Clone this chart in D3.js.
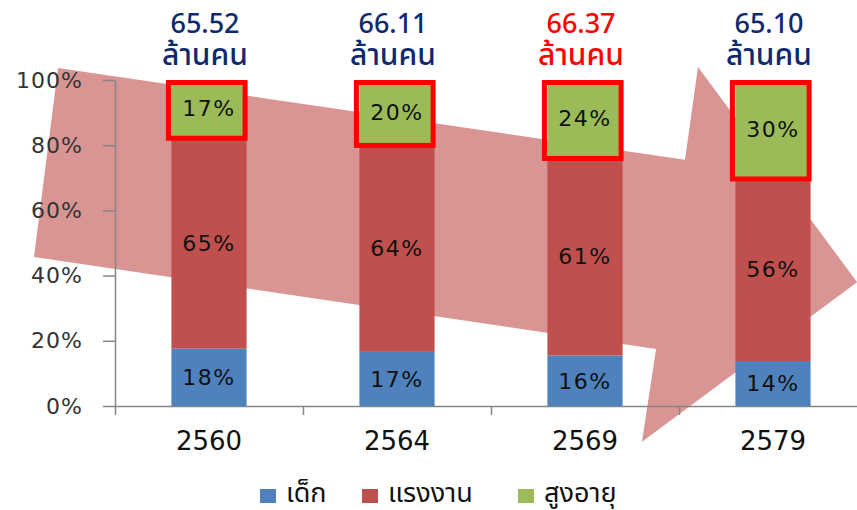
<!DOCTYPE html>
<head>
  <meta charset="utf-8">
  <script src="https://d3js.org/d3.v7.min.js"></script>
  <style>
    body { margin:0; background:#fff; }
    svg { display:block; }
    .thai { font-family: "Noto Sans Thai", "Noto Sans", Loma, Garuda, "DejaVu Sans", sans-serif; }
  </style>
</head>
<body>
  <div class="chart"></div>
  <script>
    // data
    const years = ['2560', '2564', '2569', '2579'];
    const totals = ['65.52', '66.11', '66.37', '65.10'];
    const children = [17.6, 16.6, 15.5, 13.8];   // เด็ก
    const working = [65.0, 63.8, 60.9, 56.3];    // แรงงาน
    const elderly = [17.4, 19.6, 23.6, 29.9];    // สูงอายุ
    const seriesNames = ['เด็ก', 'แรงงาน', 'สูงอายุ'];
    const yTicks = [0, 20, 40, 60, 80, 100];
    const highlightYear = '2569';

    // big arrow behind the bars, in (category units, percent)
    const arrowU = [-0.303, 3.032, 3.101, 3.947, 2.803, 2.878, -0.431];
    const arrowPct = [103.7, 75.5, 104.0, 38.0, -11.0, 17.5, 45.7];

    const colors = ['#4f81bd', '#c0504d', '#9bbb59'];
    const W = 857, H = 510;

    const rows = years.map((y, i) => ({ year: y, c: children[i], w: working[i], e: elderly[i] }));
    const keys = ['c', 'w', 'e'];
    const stacked = d3.stack().keys(keys)(rows);

    const svg = d3.select('.chart').append('svg')
      .attr('width', W).attr('height', H);

    const x = d3.scaleBand().domain(years).range([115, 867])
      .paddingInner(0.6).paddingOuter(0.3);
    const xu = d3.scaleLinear().domain([0, 4]).range([115, 867]);
    const y = d3.scaleLinear().domain([0, 100]).range([406, 80]);

    // arrow
    svg.append('path')
      .attr('d', d3.line()(arrowU.map((u, i) => [xu(u), y(arrowPct[i])])) + 'Z')
      .attr('fill', '#d99594');

    // y axis
    const yAxis = svg.append('g')
      .attr('transform', `translate(${xu(0)},0)`)
      .call(d3.axisLeft(y).tickValues(yTicks).tickFormat(d => d + '%')
        .tickSize(12).tickSizeOuter(0).tickPadding(20));
    yAxis.select('.domain').attr('stroke', '#868686').attr('stroke-width', 1.5);
    yAxis.selectAll('.tick line').attr('stroke', '#868686').attr('stroke-width', 1.5);
    yAxis.selectAll('.tick text')
      .attr('font-family', 'DejaVu Sans, sans-serif').attr('font-size', 22)
      .attr('letter-spacing', 1).attr('fill', '#333');

    // x axis (ticks between categories)
    const xAxis = svg.append('g')
      .attr('transform', `translate(0,${y(0)})`)
      .call(d3.axisBottom(xu).tickValues([0, 1, 2, 3, 4]).tickFormat('')
        .tickSize(9).tickSizeOuter(0));
    xAxis.select('.domain').attr('stroke', '#868686').attr('stroke-width', 1.5);
    xAxis.selectAll('.tick line').attr('stroke', '#868686').attr('stroke-width', 1.5);

    svg.append('g').selectAll('text')
      .data(years)
      .join('text')
      .attr('x', d => x(d) + x.bandwidth() / 2)
      .attr('y', 450)
      .attr('text-anchor', 'middle')
      .attr('font-family', 'DejaVu Sans, sans-serif')
      .attr('font-size', 26)
      .attr('fill', '#111')
      .text(d => d);

    // bars
    const layers = svg.append('g').selectAll('g')
      .data(stacked)
      .join('g')
      .attr('fill', (d, i) => colors[i]);

    layers.selectAll('rect')
      .data(d => d)
      .join('rect')
      .attr('x', d => x(d.data.year))
      .attr('y', d => y(d[1]))
      .attr('width', x.bandwidth())
      .attr('height', d => y(d[0]) - y(d[1]));

    layers.selectAll('text')
      .data(d => d.map(p => ({ p, v: p[1] - p[0] })))
      .join('text')
      .attr('x', d => x(d.p.data.year) + x.bandwidth() / 2)
      .attr('y', d => (y(d.p[0]) + y(d.p[1])) / 2)
      .attr('dy', '0.36em')
      .attr('text-anchor', 'middle')
      .attr('font-family', 'DejaVu Sans, sans-serif')
      .attr('font-size', 22)
      .attr('letter-spacing', 1.5)
      .attr('fill', '#111')
      .text(d => Math.round(d.v) + '%');

    // red boxes around the elderly share
    const elderlyLayer = stacked[2];
    svg.append('g').selectAll('rect')
      .data(elderlyLayer)
      .join('rect')
      .attr('x', d => x(d.data.year) - 3)
      .attr('y', y(100) + 2.5)
      .attr('width', x.bandwidth() + 1.5)
      .attr('height', d => y(d[0]) + 4 - 2.5 - (y(100) + 2.5))
      .attr('fill', 'none')
      .attr('stroke', '#ff0000')
      .attr('stroke-width', 5);

    // totals above the bars
    const tl = svg.append('g').selectAll('g')
      .data(years)
      .join('g')
      .attr('fill', d => d === highlightYear ? '#ff0000' : '#0d2a6e');
    tl.append('text')
      .attr('x', d => x(d) + x.bandwidth() / 2 - 4)
      .attr('y', y(100) - 47)
      .attr('text-anchor', 'middle')
      .attr('font-family', 'Noto Sans, sans-serif')
      .attr('font-size', 27)
      .attr('font-weight', 500)
      .text((d, i) => totals[i]);
    tl.append('text')
      .attr('class', 'thai')
      .attr('x', d => x(d) + x.bandwidth() / 2 - 4)
      .attr('y', y(100) - 15)
      .attr('text-anchor', 'middle')
      .attr('font-size', 30)
      .attr('font-weight', 500)
      .text('ล้านคน');

    // legend
    const legendX = [260, 362, 518];
    const lg = svg.append('g').selectAll('g')
      .data(seriesNames)
      .join('g')
      .attr('transform', (d, i) => `translate(${legendX[i]},489)`);
    lg.append('rect')
      .attr('width', 16).attr('height', 14)
      .attr('fill', (d, i) => colors[i]);
    lg.append('text')
      .attr('class', 'thai')
      .attr('x', 26).attr('y', 13)
      .attr('font-size', 27)
      .attr('fill', '#111')
      .text(d => d);
  </script>
</body>
</html>
